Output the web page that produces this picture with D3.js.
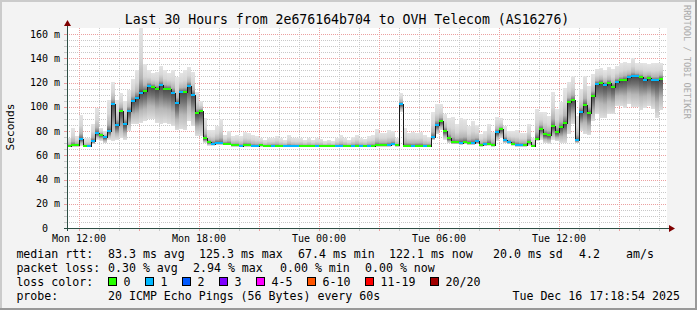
<!DOCTYPE html>
<html>
<head>
<meta charset="utf-8">
<script src="https://cdn.jsdelivr.net/npm/d3@7"></script>
<style>
  html, body { margin: 0; padding: 0; background: #f3f3f3; }
  svg { display: block; }
  text { font-family: "DejaVu Sans Mono", monospace; white-space: pre; }
</style>
</head>
<body>
<svg id="chart" width="697" height="310"></svg>
<script>
// 30 hours, one block every 12 minutes (UTC used so the sandbox TZ does not matter)
const startTime = new Date(Date.UTC(2025, 11, 15, 11, 24));
const endTime = new Date(Date.UTC(2025, 11, 16, 17, 24));
const stepMinutes = 12;

// median rtt per block (ms)
const median = [
  67.5, 68.3, 68.3, 73.6, 67.4, 67.4, 71.7, 78.3, 77.0, 75.0,
  80.0, 102.2, 85.0, 96.4, 85.8, 96.4, 104.7, 107.2, 111.7, 113.0,
  117.2, 116.4, 114.7, 118.0, 115.0, 115.0, 111.7, 103.0, 112.2, 112.2,
  117.2, 110.0, 94.7, 96.4, 73.9, 70.6, 69.7, 70.3, 70.0, 69.5,
  69.4, 68.3, 68.3, 67.5, 68.3, 68.3, 67.5, 67.5, 68.3, 67.5,
  67.5, 67.8, 67.5, 67.5, 67.5, 67.5, 67.5, 67.5, 67.5, 67.5,
  67.5, 67.5, 67.5, 67.5, 67.5, 67.5, 67.5, 67.5, 67.5, 67.5,
  67.5, 67.5, 67.5, 67.5, 67.5, 67.5, 67.5, 68.3, 68.3, 68.3,
  68.3, 69.2, 68.3, 102.2, 67.4, 67.8, 67.4, 67.8, 67.8, 67.4,
  67.8, 74.7, 85.0, 88.0, 80.0, 73.9, 70.6, 70.6, 70.3, 71.1,
  70.0, 70.0, 71.4, 68.3, 68.9, 69.7, 68.3, 78.9, 81.4, 72.8,
  70.8, 69.7, 68.6, 68.3, 68.3, 70.6, 67.4, 73.6, 81.9, 77.2,
  76.7, 83.9, 79.2, 83.1, 86.4, 103.9, 105.5, 72.5, 95.6, 101.7,
  95.0, 108.9, 118.9, 120.0, 118.3, 119.7, 116.7, 120.6, 121.7, 122.5,
  124.2, 125.3, 125.3, 124.2, 122.5, 123.6, 121.7, 121.7, 123.3
];

// lost pings per block (index into lossColors)
const loss = [
  0, 0, 0, 1, 0, 1, 1, 1, 0, 1,
  1, 1, 1, 0, 1, 1, 1, 1, 1, 0,
  1, 0, 0, 1, 0, 0, 1, 1, 1, 0,
  1, 1, 0, 0, 0, 0, 1, 1, 1, 0,
  0, 0, 0, 1, 0, 0, 1, 1, 0, 0,
  0, 1, 0, 0, 1, 1, 1, 1, 0, 0,
  0, 0, 1, 0, 0, 0, 0, 1, 1, 0,
  0, 1, 0, 1, 0, 1, 0, 0, 0, 0,
  1, 1, 0, 1, 0, 0, 1, 0, 0, 1,
  0, 1, 1, 0, 0, 0, 0, 0, 1, 0,
  0, 1, 1, 0, 1, 0, 0, 1, 0, 1,
  1, 0, 1, 1, 0, 0, 0, 0, 0, 0,
  0, 0, 0, 0, 0, 0, 0, 1, 1, 0,
  0, 0, 1, 0, 1, 0, 0, 1, 0, 0,
  1, 1, 1, 0, 1, 0, 1, 1, 0
];

// slowest ping per block (top of the smoke)
const smokeHigh = [
  74.4, 82.2, 76.0, 93.3, 74.0, 74.0, 86.0, 98.9, 82.8, 80.0,
  105.5, 120.5, 106.0, 111.0, 105.0, 113.9, 123.0, 130.6, 165.0, 135.0,
  130.0, 128.0, 128.9, 133.6, 130.0, 128.0, 130.0, 124.4, 128.0, 130.0,
  132.8, 128.9, 112.0, 105.0, 91.0, 80.5, 80.5, 84.0, 90.0, 77.0,
  80.4, 75.8, 76.4, 75.8, 79.0, 78.0, 77.0, 75.8, 74.4, 73.0,
  74.4, 74.0, 75.8, 74.0, 73.0, 76.4, 74.4, 74.0, 74.4, 73.0,
  74.4, 73.0, 74.0, 73.6, 71.7, 73.0, 71.7, 74.0, 76.4, 74.4,
  73.0, 74.7, 77.0, 74.4, 73.6, 75.6, 76.4, 81.4, 78.6, 78.6,
  80.5, 80.0, 74.4, 111.0, 82.2, 78.6, 79.4, 78.6, 79.4, 76.7,
  75.0, 95.3, 102.0, 102.0, 94.4, 91.0, 91.7, 85.6, 91.0, 89.7,
  84.2, 88.3, 84.7, 77.8, 80.0, 85.6, 79.4, 91.7, 91.1, 84.2,
  80.0, 80.0, 80.5, 78.6, 78.6, 85.6, 74.4, 98.0, 96.0, 95.3,
  92.5, 112.0, 98.0, 103.6, 115.6, 120.3, 125.0, 92.0, 114.7, 125.8,
  117.5, 127.2, 131.4, 132.2, 130.0, 132.8, 131.4, 133.6, 135.8, 137.2,
  136.4, 140.0, 135.8, 136.4, 135.8, 135.0, 135.8, 136.4, 136.4
];

// fastest ping per block (bottom of the smoke)
const smokeLow = [
  66.5, 67.0, 67.0, 68.0, 66.5, 66.5, 69.0, 73.0, 72.0, 70.0,
  73.0, 71.7, 73.0, 74.4, 73.0, 80.0, 86.0, 85.6, 86.9, 88.3,
  89.7, 89.7, 86.9, 85.6, 86.9, 85.6, 84.2, 80.5, 81.4, 80.5,
  88.3, 84.2, 75.8, 75.8, 70.3, 68.0, 68.0, 68.5, 68.5, 68.5,
  68.5, 67.0, 67.0, 66.5, 67.0, 67.0, 66.5, 66.5, 67.0, 66.5,
  66.5, 66.5, 66.5, 66.5, 66.5, 66.5, 66.5, 66.5, 66.5, 66.5,
  66.5, 66.5, 66.5, 66.5, 66.5, 66.5, 66.5, 66.5, 66.5, 66.5,
  66.5, 66.5, 66.5, 66.5, 66.5, 66.5, 66.5, 67.0, 67.0, 67.0,
  67.0, 68.0, 67.0, 96.0, 66.5, 66.5, 66.5, 66.5, 66.5, 66.5,
  66.5, 72.5, 77.2, 80.5, 73.0, 70.0, 69.0, 69.0, 68.5, 69.0,
  68.5, 68.5, 69.0, 67.0, 67.5, 68.0, 67.0, 72.0, 74.0, 70.0,
  69.0, 68.0, 67.0, 67.0, 67.0, 68.0, 66.5, 72.0, 73.0, 70.3,
  69.5, 73.0, 71.5, 70.3, 70.3, 77.2, 85.6, 70.0, 80.0, 77.2,
  76.5, 88.3, 93.9, 91.1, 90.5, 93.9, 93.9, 100.8, 100.8, 99.4,
  102.2, 99.8, 99.8, 97.2, 99.4, 100.8, 98.0, 91.0, 97.0
];

const yTicks = [0, 20, 40, 60, 80, 100, 120, 140, 160];
const lossLabels = ['0', '1', '2', '3', '4-5', '6-10', '11-19', '20/20'];
const lossColors = ['#26ff00', '#00b8ff', '#0059ff', '#7e00ff', '#ff00ff', '#ff5500', '#ff0000', '#a10000'];

const W = 697, H = 310;
const plot = { left: 67, right: 667, top: 28, bottom: 228 };

const svg = d3.select('#chart');
const x = d3.scaleUtc().domain([startTime, endTime]).range([plot.left, plot.right]);
const y = d3.scaleLinear().domain([0, 165]).range([plot.bottom, plot.top]);
const blockTime = i => new Date(+startTime + i * stepMinutes * 60000);
const crisp = v => Math.round(v) + 0.5;

// background, 3d frame, white canvas
svg.append('rect').attr('width', W).attr('height', H).attr('fill', '#f3f3f3');
svg.append('rect').attr('width', W).attr('height', 2).attr('fill', '#cbcbcb');
svg.append('rect').attr('width', 2).attr('height', H).attr('fill', '#cbcbcb');
svg.append('rect').attr('x', W - 2).attr('width', 2).attr('height', H).attr('fill', '#999');
svg.append('rect').attr('y', H - 2).attr('width', W).attr('height', 2).attr('fill', '#999');
svg.append('rect')
  .attr('x', plot.left).attr('y', plot.top)
  .attr('width', plot.right - plot.left).attr('height', plot.bottom - plot.top)
  .attr('fill', '#fff');

// grid
const gridMinor = '#c8c8c8', gridMajor = '#eba0a0';
const grid = svg.append('g').attr('stroke-width', 1);
const yMinor = d3.range(5, 165, 5).filter(v => v % 20 !== 0);
const yMajor = yTicks.filter(v => v > 0);
const xMinor = d3.utcHour.every(1).range(startTime, endTime).filter(t => t.getUTCHours() % 3 !== 0);
const xMajor = d3.utcHour.every(3).range(startTime, endTime);

const hLines = (vals, color) => {
  grid.selectAll(null).data(vals).join('line')
    .attr('x1', plot.left).attr('x2', plot.right)
    .attr('y1', d => crisp(y(d))).attr('y2', d => crisp(y(d)))
    .attr('stroke', color).attr('stroke-dasharray', '1,1');
  grid.selectAll(null).data(vals).join('line')
    .attr('x1', plot.left - 3).attr('x2', plot.left)
    .attr('y1', d => crisp(y(d))).attr('y2', d => crisp(y(d)))
    .attr('stroke', color);
};
const vLines = (vals, color) => {
  grid.selectAll(null).data(vals).join('line')
    .attr('y1', plot.top).attr('y2', plot.bottom)
    .attr('x1', d => crisp(x(d))).attr('x2', d => crisp(x(d)))
    .attr('stroke', color).attr('stroke-dasharray', '1,1');
  grid.selectAll(null).data(vals).join('line')
    .attr('y1', plot.bottom).attr('y2', plot.bottom + 3)
    .attr('x1', d => crisp(x(d))).attr('x2', d => crisp(x(d)))
    .attr('stroke', color);
};
hLines(yMinor, gridMinor);
vLines(xMinor, gridMinor);
hLines(yMajor, gridMajor);
vLines(xMajor, gridMajor);

// smoke: one gradient per block, darkest at the median
const blocks = median.map((med, i) => ({
  i, med, t0: blockTime(i), t1: blockTime(i + 1),
  hi: smokeHigh[i], lo: smokeLow[i], loss: loss[i]
}));

const defs = svg.append('defs');
defs.selectAll('linearGradient').data(blocks).join('linearGradient')
  .attr('id', d => `smoke${d.i}`)
  .attr('gradientUnits', 'userSpaceOnUse')
  .attr('x1', 0).attr('x2', 0)
  .attr('y1', d => y(d.hi)).attr('y2', d => y(d.lo))
  .selectAll('stop')
  .data(d => {
    const m = (y(d.med) - y(d.hi)) / Math.max(1, y(d.lo) - y(d.hi));
    return [
      [0, '#e4e4e4'], [m * 0.45, '#d6d6d6'], [m * 0.78, '#b4b4b4'],
      [m * 0.94, '#7a7a7a'], [m, '#484848'],
      [m + (1 - m) * 0.25, '#707070'], [m + (1 - m) * 0.6, '#b6b6b6'], [1, '#dedede']
    ];
  })
  .join('stop')
  .attr('offset', s => Math.min(1, Math.max(0, s[0])))
  .attr('stop-color', s => s[1]);

svg.append('g').attr('shape-rendering', 'crispEdges')
  .selectAll('rect').data(blocks).join('rect')
  .attr('x', d => x(d.t0)).attr('width', d => x(d.t1) - x(d.t0))
  .attr('y', d => y(d.hi)).attr('height', d => y(d.lo) - y(d.hi))
  .attr('fill', d => `url(#smoke${d.i})`);

// median: black step line plus loss coloured bars
const last = blocks[blocks.length - 1];
const line = d3.line()
  .x(d => x(d.t))
  .y(d => crisp(y(d.v)))
  .curve(d3.curveStepAfter);
svg.append('path')
  .datum([...blocks.map(d => ({ t: d.t0, v: d.med })), { t: last.t1, v: last.med }])
  .attr('d', line)
  .attr('fill', 'none').attr('stroke', '#1a1a1a').attr('stroke-width', 1)
  .attr('shape-rendering', 'crispEdges');

svg.append('g').attr('shape-rendering', 'crispEdges')
  .selectAll('rect').data(blocks).join('rect')
  .attr('x', d => x(d.t0)).attr('width', d => x(d.t1) - x(d.t0))
  .attr('y', d => Math.round(y(d.med)) - 1).attr('height', 2)
  .attr('fill', d => lossColors[d.loss]);

// axes with arrows
const axisColor = '#2c4d43', arrowColor = '#7f0000';
svg.append('line')
  .attr('x1', plot.left - 3).attr('x2', plot.right + 3)
  .attr('y1', plot.bottom + 0.5).attr('y2', plot.bottom + 0.5)
  .attr('stroke', axisColor);
svg.append('line')
  .attr('x1', plot.left + 0.5).attr('x2', plot.left + 0.5)
  .attr('y1', plot.bottom + 3).attr('y2', plot.top - 3)
  .attr('stroke', axisColor);
svg.append('path')
  .attr('d', `M${plot.right + 2},${plot.bottom - 3} L${plot.right + 8},${plot.bottom + 0.5} L${plot.right + 2},${plot.bottom + 4} Z`)
  .attr('fill', arrowColor);
svg.append('path')
  .attr('d', `M${plot.left - 3},${plot.top - 2} L${plot.left + 0.5},${plot.top - 8} L${plot.left + 4},${plot.top - 2} Z`)
  .attr('fill', arrowColor);

// tick labels
svg.append('g').selectAll('text').data(yTicks).join('text')
  .attr('x', plot.left - 7).attr('y', d => y(d) + 3.5)
  .attr('text-anchor', 'end').attr('font-size', 10).attr('fill', '#000')
  .text(d => d === 0 ? '0  ' : `${d} m`);

const fmtX = d3.utcFormat('%a %H:%M');
svg.append('g').selectAll('text').data(d3.utcHour.every(6).range(startTime, endTime)).join('text')
  .attr('x', d => x(d)).attr('y', 241.5)
  .attr('text-anchor', 'middle').attr('font-size', 10).attr('fill', '#000')
  .text(fmtX);

// titles
svg.append('text')
  .attr('x', 347).attr('y', 24).attr('text-anchor', 'middle')
  .attr('font-size', 13.2).attr('fill', '#000')
  .text('Last 30 Hours from 2e676164b704 to OVH Telecom (AS16276)');
svg.append('text')
  .attr('transform', 'translate(14,127) rotate(-90)').attr('text-anchor', 'middle')
  .attr('font-size', 11.2).attr('fill', '#000')
  .text('Seconds');
svg.append('text')
  .attr('transform', 'translate(684,5) rotate(90)')
  .attr('font-size', 8.6).attr('fill', '#aaa')
  .text('RRDTOOL / TOBI OETIKER');

// legend
const legendFont = 11.6, charW = 7.0;
const legend = svg.append('g').attr('font-size', legendFont).attr('fill', '#000');
const legendRow = (yPos, items) => {
  legend.selectAll(null).data(items).join('text')
    .attr('x', d => d[0]).attr('y', yPos).text(d => d[1]);
};
legendRow(258, [[16.4, 'median rtt:'], [108, '83.3 ms avg'], [199, '125.3 ms max'], [298, '67.4 ms min'],
  [389, '122.1 ms now'], [493, '20.0 ms sd'], [579, '4.2'], [626, 'am/s']]);
legendRow(272, [[16.4, 'packet loss:'], [108, '0.30 % avg'], [193, '2.94 % max'], [280, '0.00 % min'], [365, '0.00 % now']]);
legendRow(286, [[16.4, 'loss color:']]);
legendRow(300, [[16.4, 'probe:'], [108, '20 ICMP Echo Pings (56 Bytes) every 60s']]);
legend.append('text').attr('x', 680).attr('y', 300).attr('text-anchor', 'end')
  .text('Tue Dec 16 17:18:54 2025');

let boxX = 108;
lossLabels.forEach((label, k) => {
  legend.append('rect')
    .attr('x', boxX + 0.5).attr('y', 277.5).attr('width', 8).attr('height', 8)
    .attr('fill', lossColors[k]).attr('stroke', '#000');
  legend.append('text').attr('x', boxX + 15.5).attr('y', 286).text(label);
  boxX += 15.5 + label.length * charW + 14.5;
});
</script>
</body>
</html>
